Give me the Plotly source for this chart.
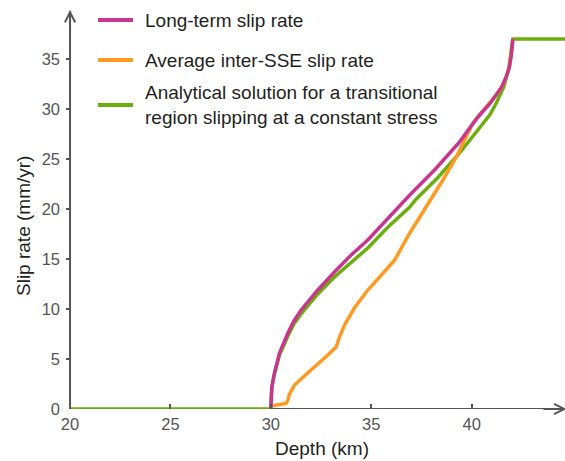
import plotly.graph_objects as go

# Long-term slip rate (magenta)
depth_lt = [30.0, 30.02, 30.05, 30.18, 30.43, 30.85, 31.15, 31.51, 31.9, 32.34, 33.17, 34.0, 34.83,
            35.84, 36.92, 38.2, 39.4, 39.9, 40.4, 40.9, 41.23, 41.5, 41.72, 41.88,
            41.97, 42.03, 42.05]
slip_lt = [0.0, 1.2, 2.2, 3.6, 5.6, 7.6, 8.8, 9.9, 10.9, 11.9, 13.7, 15.4, 16.9,
           19.1, 21.4, 24.0, 26.7, 28.1, 29.4, 30.5, 31.4, 32.2, 33.2, 34.2,
           35.3, 36.3, 37.0]

# Average inter-SSE slip rate (orange)
depth_avg = [30.0, 30.4, 30.76, 30.85, 30.93, 31.18, 31.6, 32.0, 32.84, 33.25, 33.42,
             33.67, 34.16, 34.83, 35.42, 36.17, 36.92, 37.75, 38.57, 39.24, 39.4,
             39.82, 40.1, 40.4, 40.9, 41.23, 41.5, 41.72, 41.88, 41.97, 42.03, 42.05]
slip_avg = [0.3, 0.4, 0.55, 0.9, 1.5, 2.4, 3.2, 3.9, 5.4, 6.2, 7.2,
            8.4, 10.1, 11.9, 13.2, 14.9, 17.6, 20.2, 22.9, 25.2, 25.9,
            27.6, 28.7, 29.4, 30.5, 31.4, 32.2, 33.2, 34.2, 35.3, 36.3, 37.0]

# Analytical solution (green)
depth_an = [20.0, 30.0, 30.02, 30.05, 30.18, 30.43, 30.85, 31.15, 31.51, 31.9, 32.34, 33.17, 34.0,
            34.43, 34.83, 35.84, 36.92, 37.2, 38.3, 39.4, 40.4, 40.9, 41.23, 41.6,
            41.85, 42.0, 42.05, 44.7]
slip_an = [0.0, 0.0, 1.1, 2.1, 3.5, 5.4, 7.3, 8.5, 9.5, 10.5, 11.5, 13.2, 14.7,
           15.4, 16.1, 18.2, 20.2, 20.9, 23.1, 25.6, 28.2, 29.4, 30.6, 32.2,
           34.0, 36.0, 37.0, 37.0]

legend_labels = ["Long-term slip rate", "Average inter-SSE slip rate",
                 "Analytical solution for a transitional<br>region slipping at a constant stress"]

x_ticks = [20, 25, 30, 35, 40]
y_ticks = [0, 5, 10, 15, 20, 25, 30, 35]

MAGENTA = "#C8378F"
ORANGE = "#FF9922"
GREEN = "#6BAF0C"
AXIS = "#555555"
TEXT = "#231F20"
FONT = "Liberation Sans, Arial, sans-serif"

L, R, T, B = 66, 0, 0, 52
W, H = 565, 461
PW, PH = W - L - R, H - T - B
XR = [19.8, 44.65]
YR = [0, 40.9]


def px_to_paper_x(px):
    return (px - L) / PW


def px_to_paper_y(py):
    return 1 - (py - T) / PH


fig = go.Figure()
fig.add_trace(go.Scatter(x=depth_an, y=slip_an, mode="lines", cliponaxis=False,
                         line=dict(color=GREEN, width=3.5), showlegend=False))
fig.add_trace(go.Scatter(x=depth_avg, y=slip_avg, mode="lines", cliponaxis=False,
                         line=dict(color=ORANGE, width=3.5), showlegend=False))
fig.add_trace(go.Scatter(x=depth_lt, y=slip_lt, mode="lines", cliponaxis=False,
                         line=dict(color=MAGENTA, width=3.5), showlegend=False))

# axis lines (below traces)
fig.add_shape(type="line", xref="x", yref="y", x0=20, x1=20, y0=0, y1=39.8,
              line=dict(color=AXIS, width=2), layer="below")
fig.add_shape(type="line", xref="x", yref="y", x0=20, x1=44.6, y0=0, y1=0,
              line=dict(color=AXIS, width=2), layer="below")
# arrowheads
fig.add_annotation(x=20, y=39.9, ax=20, ay=38.0, xref="x", yref="y", axref="x", ayref="y",
                   showarrow=True, arrowhead=5, arrowsize=1, arrowwidth=2,
                   arrowcolor=AXIS, text="")
fig.add_annotation(x=44.72, y=0, ax=43.5, ay=0, xref="x", yref="y", axref="x", ayref="y",
                   showarrow=True, arrowhead=5, arrowsize=1, arrowwidth=2,
                   arrowcolor=AXIS, text="")

# legend (manual)
leg_y = [20, 60, 105]
colors = [MAGENTA, ORANGE, GREEN]
for yy, c, lab in zip(leg_y, colors, legend_labels):
    fig.add_shape(type="line", xref="paper", yref="paper",
                  x0=px_to_paper_x(98), x1=px_to_paper_x(133),
                  y0=px_to_paper_y(yy), y1=px_to_paper_y(yy),
                  line=dict(color=c, width=4))
    fig.add_annotation(xref="paper", yref="paper", x=px_to_paper_x(143),
                       y=px_to_paper_y(yy), text=lab, showarrow=False,
                       xanchor="left", yanchor="middle", align="left",
                       font=dict(family=FONT, size=19, color=TEXT))

# axis titles
fig.add_annotation(xref="paper", yref="paper", x=px_to_paper_x(322), y=px_to_paper_y(448),
                   text="Depth (km)", showarrow=False, xanchor="center", yanchor="middle",
                   font=dict(family=FONT, size=19, color=TEXT))
fig.add_annotation(xref="paper", yref="paper", x=px_to_paper_x(23), y=px_to_paper_y(226),
                   text="Slip rate (mm/yr)", showarrow=False, textangle=-90,
                   xanchor="center", yanchor="middle",
                   font=dict(family=FONT, size=19, color=TEXT))

fig.update_layout(
    width=W, height=H,
    margin=dict(l=L, r=R, t=T, b=B, autoexpand=False),
    paper_bgcolor="white", plot_bgcolor="white",
    showlegend=False,
    font=dict(family=FONT),
)
fig.update_xaxes(range=XR, tickvals=x_ticks, ticktext=[str(v) for v in x_ticks],
                 ticks="inside", ticklen=5, tickwidth=1.5, tickcolor=AXIS,
                 tickfont=dict(size=16.5, color=AXIS), showgrid=False, zeroline=False,
                 showline=False, automargin=False, ticklabelstandoff=3)
fig.update_yaxes(range=YR, tickvals=y_ticks, ticktext=[str(v) for v in y_ticks],
                 ticks="inside", ticklen=5, tickwidth=1.5, tickcolor=AXIS,
                 tickfont=dict(size=16.5, color=AXIS), showgrid=False, zeroline=False,
                 showline=False, automargin=False, ticklabelstandoff=5)

fig.write_html("out.html", config={"displayModeBar": False},
               post_script="document.body.style.margin='0px';document.body.style.overflow='hidden';")
